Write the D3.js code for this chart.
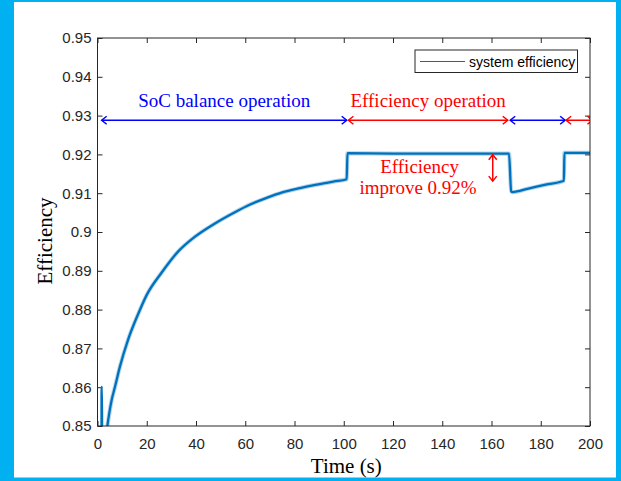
<!DOCTYPE html>
<html>
<head>
<meta charset="utf-8">
<script src="https://cdn.jsdelivr.net/npm/d3@7"></script>
<style>
  body { margin: 0; background: #00b0f0; }
  svg { display: block; }
</style>
</head>
<body>
<div id="chart"></div>
<script>
// Data
var timeS = [1.6, 1.65, 1.85, 1.9, 3.0, 4.0, 5.75, 7.1, 9.1, 12.5, 16.6, 20, 26, 32.8, 39.6, 47.7,
  55.2, 62, 68.7, 75, 82.2, 89, 95.8, 101.2, 101.5, 120, 140, 160, 167.1, 168, 168.5, 175, 182,
  189.4, 189.6, 200];
var efficiency = [0.840, 0.8601, 0.8601, 0.840, 0.845, 0.850, 0.8567, 0.8601, 0.8653, 0.8724, 0.879,
  0.8838, 0.8895, 0.8950, 0.8988, 0.9022, 0.9049, 0.9071, 0.9088, 0.9102, 0.9113, 0.9122, 0.9130,
  0.9136, 0.9203, 0.9202, 0.9202, 0.9202, 0.9202, 0.9105, 0.9103, 0.9112, 0.9122, 0.9132, 0.9204,
  0.9204];

var xTicks = [0, 20, 40, 60, 80, 100, 120, 140, 160, 180, 200];
var xTickLabels = ["0", "20", "40", "60", "80", "100", "120", "140", "160", "180", "200"];
var yTicks = [0.85, 0.86, 0.87, 0.88, 0.89, 0.90, 0.91, 0.92, 0.93, 0.94, 0.95];
var yTickLabels = ["0.85", "0.86", "0.87", "0.88", "0.89", "0.9", "0.91", "0.92", "0.93", "0.94", "0.95"];

// operation phases (start, end, label, colour)
var phaseStart = [1.7, 101.9, 167.6, 190.3];
var phaseEnd = [101.2, 166.6, 189.9, 201];
var phaseColor = ["#0000ff", "#ff0000", "#0000ff", "#ff0000"];
var phaseLabel = ["SoC balance operation", "Efficiency operation", "", ""];
var arrowLevel = 0.9288;

var svgWidth = 621, svgHeight = 481;
var margin = { top: 38, right: 31, bottom: 55, left: 97.5 };
var width = svgWidth - margin.left - margin.right;
var height = svgHeight - margin.top - margin.bottom;

var svg = d3.select("#chart").append("svg")
    .attr("width", svgWidth)
    .attr("height", svgHeight);

// white page inside the blue frame
svg.append("rect").attr("x", 14).attr("y", 2).attr("width", 602).attr("height", 475.5).attr("fill", "#fff");

var chartGroup = svg.append("g")
    .attr("transform", `translate(${margin.left}, ${margin.top})`);

var xScale = d3.scaleLinear().domain([0, 200]).range([0, width]);
var yScale = d3.scaleLinear().domain([0.85, 0.95]).range([height, 0]);

var axisColor = "#262626";
var sans = "'Liberation Sans', Arial, Helvetica, sans-serif";
var serif = "'Liberation Serif', 'Times New Roman', Times, serif";

function styleAxis(g) {
  g.select(".domain").remove();
  g.selectAll("line").attr("stroke", axisColor);
  g.selectAll("text").attr("fill", axisColor).style("font-family", sans).style("font-size", "15px");
}

chartGroup.append("g")
    .attr("transform", `translate(0, ${height})`)
    .call(d3.axisBottom(xScale).tickValues(xTicks).tickSizeInner(-5).tickSizeOuter(0).tickPadding(12)
      .tickFormat((d, i) => xTickLabels[i]))
    .call(styleAxis);
chartGroup.append("g")
    .call(d3.axisTop(xScale).tickValues(xTicks).tickSizeInner(-5).tickSizeOuter(0).tickFormat(""))
    .call(styleAxis);
chartGroup.append("g")
    .call(d3.axisLeft(yScale).tickValues(yTicks).tickSizeInner(-5).tickSizeOuter(0).tickPadding(6)
      .tickFormat((d, i) => yTickLabels[i]))
    .call(styleAxis);
chartGroup.append("g")
    .attr("transform", `translate(${width}, 0)`)
    .call(d3.axisRight(yScale).tickValues(yTicks).tickSizeInner(-5).tickSizeOuter(0).tickFormat(""))
    .call(styleAxis);

// clip
chartGroup.append("clipPath").attr("id", "clip")
  .append("rect").attr("width", width).attr("height", height);

var series = timeS.map((t, i) => ({ t: t, v: efficiency[i] }));
var line = d3.line().curve(d3.curveMonotoneX).x(d => xScale(d.t)).y(d => yScale(d.v));

var plot = chartGroup.append("g").attr("clip-path", "url(#clip)");
// soft halo imitating the measurement noise band
plot.append("path").datum(series.slice(5))
    .attr("d", line).attr("fill", "none")
    .attr("stroke", "#0072bd").attr("stroke-opacity", 0.3).attr("stroke-width", 4.2);
plot.append("path").datum(series)
    .attr("d", line).attr("fill", "none")
    .attr("stroke", "#0072bd").attr("stroke-width", 2.3).attr("stroke-linejoin", "round");

// phase arrows
var ah = 4, al = 5;
var arrows = chartGroup.append("g").attr("clip-path", "url(#clip)");
phaseStart.forEach(function(s, i) {
  var x0 = xScale(s), x1 = xScale(phaseEnd[i]), y = yScale(arrowLevel);
  var g = arrows.append("g").attr("stroke", phaseColor[i]).attr("stroke-width", 1.5).attr("fill", "none");
  g.append("line").attr("x1", x0).attr("x2", x1).attr("y1", y).attr("y2", y);
  g.append("path").attr("d", `M${x0 + al},${y - ah}L${x0},${y}L${x0 + al},${y + ah}`);
  g.append("path").attr("d", `M${x1 - al},${y - ah}L${x1},${y}L${x1 - al},${y + ah}`);
  if (phaseLabel[i]) {
    chartGroup.append("text")
      .attr("x", (x0 + x1) / 2).attr("y", y - 13)
      .attr("text-anchor", "middle")
      .attr("fill", phaseColor[i])
      .style("font-family", serif).style("font-size", "19px")
      .text(phaseLabel[i]);
  }
});

// improvement marker
var improveTop = 0.9203, improveBottom = 0.9126, improveT = 160.5;
var ix = xScale(improveT), iy0 = yScale(improveTop) + 1.5, iy1 = yScale(improveBottom) - 2;
var imp = chartGroup.append("g").attr("stroke", "#ff0000").attr("stroke-width", 1.5).attr("fill", "none");
imp.append("line").attr("x1", ix).attr("x2", ix).attr("y1", iy0).attr("y2", iy1);
imp.append("path").attr("d", `M${ix - ah},${iy0 + al}L${ix},${iy0}L${ix + ah},${iy0 + al}`);
imp.append("path").attr("d", `M${ix - ah},${iy1 - al}L${ix},${iy1}L${ix + ah},${iy1 - al}`);
chartGroup.append("text")
    .attr("x", xScale(130.8)).attr("y", yScale(0.9153))
    .attr("text-anchor", "middle").attr("fill", "#ff0000")
    .style("font-family", serif).style("font-size", "19px")
    .text("Efficiency");
chartGroup.append("text")
    .attr("x", xScale(130.2)).attr("y", yScale(0.90975))
    .attr("text-anchor", "middle").attr("fill", "#ff0000")
    .style("font-family", serif).style("font-size", "19px")
    .text("improve 0.92%");

// box
chartGroup.append("rect").attr("width", width).attr("height", height)
    .attr("fill", "none").attr("stroke", axisColor).attr("stroke-width", 1);

// legend
var legend = svg.append("g").attr("transform", "translate(415, 50)");
legend.append("rect").attr("width", 162.5).attr("height", 22.5)
    .attr("fill", "#fff").attr("stroke", axisColor).attr("stroke-width", 1);
legend.append("line").attr("x1", 5).attr("x2", 50).attr("y1", 11.5).attr("y2", 11.5)
    .attr("stroke", "#0072bd").attr("stroke-width", 1);
legend.append("text").attr("x", 54).attr("y", 16.5)
    .attr("fill", "#000").style("font-family", sans).style("font-size", "14px")
    .text("system efficiency");

// axis labels
svg.append("text")
    .attr("transform", "translate(52, 241) rotate(-90)")
    .attr("text-anchor", "middle").attr("fill", "#000")
    .style("font-family", serif).style("font-size", "21px")
    .text("Efficiency");
svg.append("text")
    .attr("x", 346.3).attr("y", 473)
    .attr("text-anchor", "middle").attr("fill", "#000")
    .style("font-family", serif).style("font-size", "21px")
    .text("Time (s)");
</script>
</body>
</html>
